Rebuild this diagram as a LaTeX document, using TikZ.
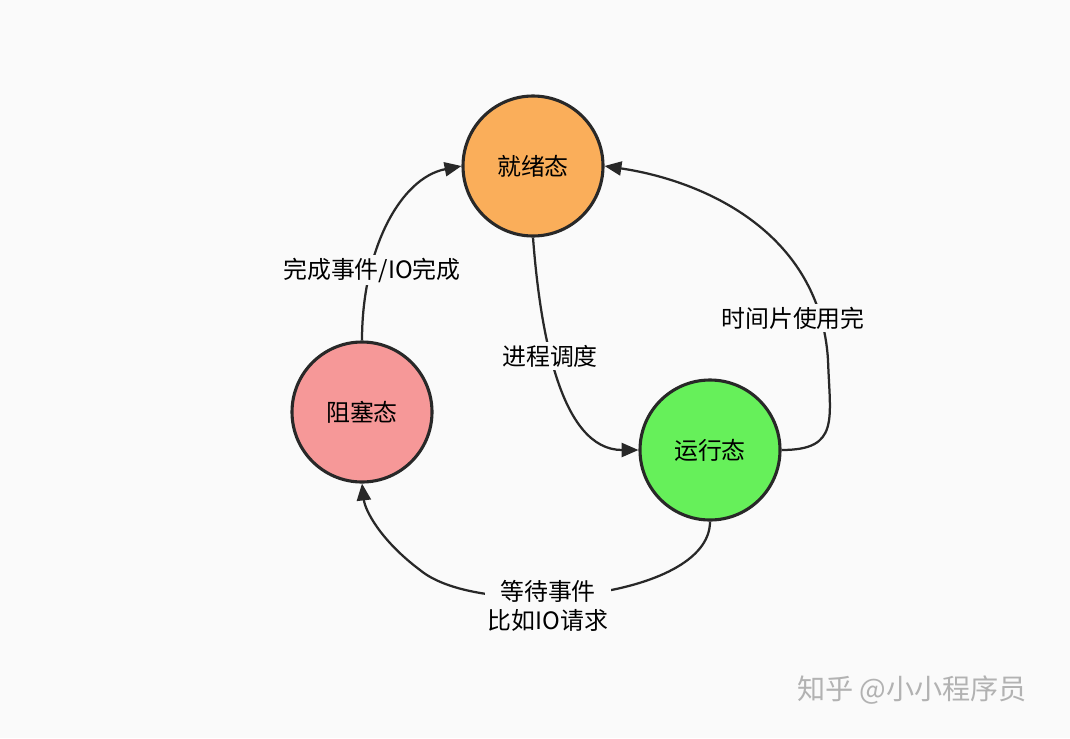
\documentclass[tikz,border=0pt]{standalone}
\usepackage{fontspec}
\setmainfont{Noto Sans CJK SC}
\usepackage{xcolor}
\definecolor{fondo}{RGB}{250, 250, 250}
\definecolor{naranja}{RGB}{250, 174, 90}
\definecolor{rosa}{RGB}{246, 152, 152}
\definecolor{verde}{RGB}{102, 240, 90}
\definecolor{grisOscuro}{RGB}{40, 40, 40}
\usepackage{tikz}
\usetikzlibrary{arrows.meta,positioning}
\tikzstyle{estado}=[circle, draw=grisOscuro, minimum size=140*0.025cm,
                    line width=2.2pt, inner sep=0pt, font=\fontsize{17}{20}\selectfont]
\tikzstyle{flecha}=[-{Triangle[length=12pt,width=10pt]}, line width=1.6pt,
                    draw=grisOscuro]
\tikzstyle{etiqueta}=[fill=fondo, inner sep=2pt, align=center,
                    font=\fontsize{17}{21}\selectfont]
\begin{document}
\begin{tikzpicture}[x=0.025cm,y=-0.025cm]
    \fill[fondo] (0,0) rectangle (1070,738);

    \node (listo) [estado, fill=naranja] at (533,166) {就绪态};
    \node (bloq) [estado, fill=rosa] at (362,412) {阻塞态};
    \node (ejec) [estado, fill=verde] at (710,450) {运行态};

    %bloqueado -> listo
    \draw[flecha] (bloq.north) .. controls (362,250) and (400,178) .. (listo.west);
    \node[etiqueta] at (372,270) {完成事件/IO完成};

    %listo -> ejecucion
    \draw[flecha] (listo.south) .. controls (540,330) and (560,450) .. (ejec.west);
    \node[etiqueta] at (550,356) {进程调度};

    %ejecucion -> listo
    \draw[flecha] (ejec.east) .. controls (840,450) and (830,420) .. (828,360)
        .. controls (820,230) and (700,180) .. (listo.east);
    \node[etiqueta] at (793,318) {时间片使用完};

    %ejecucion -> bloqueado
    \draw[flecha] (ejec.south) .. controls (710,600) and (480,620) .. (420,570)
        .. controls (380,540) and (365,510) .. (bloq.south);
    \node[etiqueta] at (548,606) {等待事件\\比如IO请求};

    \node (marca) [text=gray!60, font=\fontsize{20}{24}\selectfont] at (912,690) {知乎 @小小程序员};
\end{tikzpicture}
\end{document}
